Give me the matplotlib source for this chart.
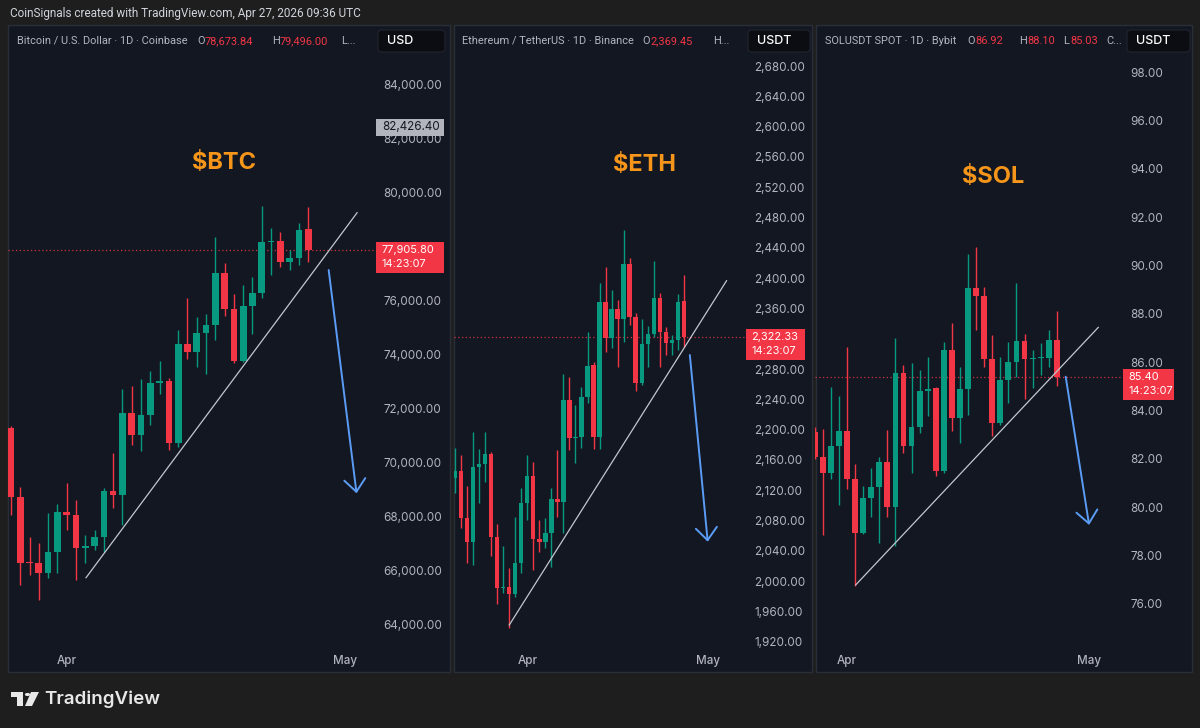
import numpy as np
import pandas as pd
import matplotlib
matplotlib.use('Agg')
import matplotlib.pyplot as plt
from matplotlib.patches import Rectangle, FancyBboxPatch, Circle, Polygon

plt.rcParams['font.family'] = ['Inter', 'DejaVu Sans']
HDR = ['Roboto', 'DejaVu Sans']

# ---------------- data (daily candles) ----------------
APR1 = pd.Timestamp('2026-04-01')

btc_start = '2026-03-26'
btc_open = [71284, 68753, 66346, 66284, 65938, 66716, 68198, 68074, 66864, 66926, 67247,
            68975, 68815, 71864, 71037, 71765, 72975, 73037, 70728, 74407, 74123, 74802,
            75111, 77049, 75704, 73778, 75815, 76309, 78173, 78235, 77432, 77605, 78673.84]
btc_high = [71370, 69123, 67247, 67049, 68136, 68481, 69272, 68630, 67333, 67518, 69062,
            70358, 72728, 72852, 73099, 73420, 73790, 73136, 74926, 76099, 75420, 75519,
            78358, 77420, 76259, 76593, 76877, 79518, 78691, 78568, 77889, 78901, 79496.00]
btc_low = [68074, 65481, 65852, 64926, 65728, 65914, 67518, 65667, 66284, 66778, 66716,
           68321, 67704, 70667, 70457, 71407, 72556, 70481, 70605, 73839, 73543, 73296,
           74556, 75444, 73700, 73753, 74778, 76099, 76963, 77272, 77148, 77333, 77457]
btc_close = [68753, 66309, 66284, 65938, 66716, 68198, 68074, 66864, 66926, 67247, 68975,
             68815, 71864, 71037, 71765, 72975, 73037, 70728, 74407, 74123, 74802, 75111,
             77049, 75704, 73778, 75815, 76309, 78173, 78235, 77432, 77605, 78629, 77905.80]

eth_start = '2026-03-20'
eth_open = [2135.6, 2145.3, 2083.7, 2052.0, 2150.2, 2154.6, 2167.8, 2058.6, 1990.9, 1992.6,
            1982.5, 2024.3, 2103.5, 2138.7, 2055.1, 2051.2, 2063.9, 2108.4, 2104.8, 2239.1,
            2188.5, 2189.8, 2243.5, 2285.3, 2189.8, 2368.0, 2321.4, 2358.8, 2346.0, 2418.2,
            2348.2, 2261.1, 2312.6, 2325.8, 2373.3, 2328.4, 2313.9, 2318.3, 2369.45]
eth_high = [2175.3, 2166.5, 2125.5, 2197.3, 2173.9, 2197.3, 2170.9, 2075.4, 2046.3, 2017.7,
            2084.2, 2122.4, 2166.5, 2157.6, 2080.6, 2082.8, 2122.4, 2173.1, 2273.4, 2269.9,
            2232.5, 2256.7, 2328.4, 2289.7, 2394.0, 2414.2, 2384.3, 2371.1, 2463.5, 2426.1,
            2353.5, 2345.6, 2336.8, 2423.0, 2380.8, 2335.9, 2324.9, 2379.0, 2404.1]
eth_low = [2115.8, 2069.6, 2024.3, 2021.2, 2102.6, 2131.2, 2033.1, 1969.7, 1983.8, 1937.6,
           1979.4, 2010.2, 2080.6, 2014.6, 2038.8, 2043.2, 2019.0, 2085.0, 2063.0, 2173.1,
           2156.3, 2175.3, 2234.7, 2173.9, 2173.9, 2302.9, 2307.3, 2283.1, 2316.1, 2338.1,
           2251.4, 2258.9, 2283.1, 2322.7, 2283.1, 2298.5, 2298.5, 2305.1, 2309.5]
eth_close = [2145.8, 2082.8, 2052.0, 2150.2, 2154.6, 2167.8, 2058.6, 1990.4, 1992.6, 1982.5,
             2024.3, 2103.5, 2138.7, 2055.1, 2051.2, 2063.9, 2108.4, 2104.8, 2239.1, 2188.5,
             2189.8, 2243.5, 2283.9, 2189.8, 2368.0, 2321.4, 2358.8, 2346.0, 2418.2, 2348.2,
             2261.1, 2312.6, 2325.8, 2373.3, 2328.4, 2313.9, 2318.3, 2368.9, 2322.33]

sol_start = '2026-03-28'
sol_open = [83.13, 82.07, 81.40, 82.55, 83.17, 81.17, 78.92, 80.37, 80.83, 81.89, 80.00,
            85.54, 82.55, 83.31, 84.81, 84.92, 81.50, 86.51, 83.71, 84.88, 89.06, 88.74,
            86.13, 83.47, 85.26, 86.02, 86.88, 86.13, 86.17, 86.17, 86.92]
sol_high = [83.30, 83.22, 84.99, 84.60, 86.61, 81.79, 80.89, 81.61, 82.09, 83.20, 86.99,
            85.88, 85.95, 85.68, 86.23, 84.99, 86.85, 87.64, 85.82, 90.48, 90.75, 89.12,
            87.13, 86.23, 86.85, 89.29, 87.17, 86.51, 86.78, 87.33, 88.10]
sol_low = [82.00, 78.85, 81.16, 80.09, 80.74, 76.74, 78.88, 79.58, 78.54, 79.58, 78.40,
           82.26, 81.40, 83.06, 83.78, 81.29, 81.40, 83.16, 82.65, 83.82, 87.33, 85.82,
           82.95, 83.40, 84.30, 85.40, 84.46, 84.92, 85.47, 85.82, 85.03]
sol_close = [82.09, 81.40, 82.55, 83.17, 81.17, 78.92, 80.37, 80.83, 81.89, 80.00, 85.54,
             82.55, 83.31, 84.82, 84.89, 81.50, 86.51, 83.71, 84.88, 89.06, 88.74, 86.13,
             83.47, 85.26, 86.02, 86.88, 86.12, 86.19, 86.20, 86.92, 85.40]

# drawings: (days after Apr 1, price)
btc_trend = [(2.08, 65752), (31.26, 79270)]
btc_arrow = [(28.2, 77148), (31.2, 68878)]
eth_trend = [(-3.0, 1942), (33.1, 2396.6)]
eth_arrow = [(27.0, 2298.5), (29.97, 2052)]
sol_trend = [(1.08, 76.79), (31.14, 87.44)]
sol_arrow = [(27.1, 85.40), (30.0, 79.27)]

# price-scale labels (the ones hidden behind the live price tag are left out)
btc_ticks = [64000, 66000, 68000, 70000, 72000, 74000, 76000, 80000, 82000, 84000]
eth_ticks = [1920, 1960, 2000, 2040, 2080, 2120, 2160, 2200, 2240, 2280,
             2360, 2400, 2440, 2480, 2520, 2560, 2600, 2640, 2680]
sol_ticks = [76, 78, 80, 82, 84, 86, 88, 90, 92, 94, 96, 98]

btc_marker = 82426.40
time_left = '14:23:07'

# ---------------- style ----------------
W, H = 1200, 728
BG = '#1e1e1e'
PANEL = '#131722'
GREEN = '#089981'
RED = '#f23645'
TXT = '#b2b5be'
ARROW = '#5b9cf6'
TREND = '#c3c7cf'
ORANGE = '#f5961b'

fig = plt.figure(figsize=(W / 100, H / 100), dpi=100, facecolor=BG)


def fx(x):
    return x / W


def fy(y):
    return 1 - y / H


def px_text(x, y, s, **kw):
    fig.text(fx(x), fy(y), s, **kw)


def candles(ax, start, o, h, l, c, width=0.72):
    dates = pd.date_range(start, periods=len(o))
    x = np.asarray((dates - APR1).days, dtype=float)
    o, h, l, c = map(np.asarray, (o, h, l, c))
    cols = np.where(c >= o, GREEN, RED)
    lo, hi = ax.get_ylim()
    minh = (hi - lo) / ax.bbox.height * 1.2
    ax.vlines(x, l, h, colors=cols, lw=1, zorder=2)
    ax.bar(x, np.maximum(np.abs(c - o), minh), width, np.minimum(o, c),
           color=cols, lw=0, zorder=3)


def tag(ax, price, lines, fc, tc, x0, x1, h):
    y = H - ax.transData.transform((0, price))[1]
    fig.patches.append(Rectangle((fx(x0), fy(y - 8 + h)), (x1 - x0) / W, h / H,
                                 transform=fig.transFigure, fc=fc, ec='none', zorder=5))
    for i, s in enumerate(lines):
        fig.text(fx(x0 + 5.5), fy(y + 14 * i), s, color=tc, fontsize=7.9,
                 va='center', ha='left', zorder=6)


panels = [
    dict(box=(8, 25, 450, 672), chart=(8, 374), apr=66.7, step=9.29,
         ylim=(63148, 86222), ticks=btc_ticks, fmt='{:,.2f}',
         ohlc=(btc_start, btc_open, btc_high, btc_low, btc_close),
         trend=btc_trend, arrow=btc_arrow, last=btc_close[-1], tag=(376, 444),
         unit='USD', ubox=(378, 445), label='$BTC', lpos=(224, 163)),
    dict(box=(454, 25, 812, 672), chart=(454, 745), apr=527.3, step=6.02,
         ylim=(1911.7, 2734.2), ticks=eth_ticks, fmt='{:,.2f}',
         ohlc=(eth_start, eth_open, eth_high, eth_low, eth_close),
         trend=eth_trend, arrow=eth_arrow, last=eth_close[-1], tag=(746, 805),
         unit='USDT', ubox=(748, 810), label='$ETH', lpos=(645, 165)),
    dict(box=(816, 25, 1192, 672), chart=(815, 1121), apr=847.0, step=8.07,
         ylim=(74.18, 99.945), ticks=sol_ticks, fmt='{:,.2f}',
         ohlc=(sol_start, sol_open, sol_high, sol_low, sol_close),
         trend=sol_trend, arrow=sol_arrow, last=sol_close[-1], tag=(1123, 1174),
         unit='USDT', ubox=(1127, 1190), label='$SOL', lpos=(993, 177)),
]

for p in panels:
    bx0, by0, bx1, by1 = p['box']
    fig.patches.append(Rectangle((fx(bx0), fy(by1)), (bx1 - bx0) / W, (by1 - by0) / H,
                                 transform=fig.transFigure, fc=PANEL, ec='#2a2e39',
                                 lw=1, zorder=-5))
    cx0, cx1 = p['chart']
    ax = fig.add_axes([fx(cx0), fy(648), (cx1 - cx0) / W, (648 - 25) / H])
    ax.set_zorder(1)
    ax.set_facecolor('none')
    for s in ax.spines.values():
        s.set_visible(False)
    ax.set_xlim((cx0 - p['apr']) / p['step'], (cx1 - p['apr']) / p['step'])
    ax.set_ylim(*p['ylim'])

    ax.yaxis.tick_right()
    ax.set_yticks(p['ticks'])
    ax.set_yticklabels([p['fmt'].format(t) for t in p['ticks']])
    ax.tick_params(axis='y', length=0, pad=6.5, labelsize=8.4, labelcolor=TXT)
    ax.set_xticks([0, 30])
    ax.set_xticklabels(['Apr', 'May'])
    ax.tick_params(axis='x', length=0, pad=5, labelsize=8.4, labelcolor=TXT)
    for t in ax.get_xticklabels():
        t.set_fontweight('medium')

    candles(ax, *p['ohlc'])

    (tx0, ty0), (tx1, ty1) = p['trend']
    ax.plot([tx0, tx1], [ty0, ty1], color=TREND, lw=0.9, zorder=4, clip_on=False)
    (ax0, ay0), (ax1, ay1) = p['arrow']
    ax.annotate('', xy=(ax1, ay1), xytext=(ax0, ay0),
                arrowprops=dict(arrowstyle='->,head_length=0.45,head_width=0.38',
                                color=ARROW, lw=1.4, mutation_scale=20,
                                shrinkA=0, shrinkB=0), zorder=4)

    ax.axhline(p['last'], color=RED, lw=0.9, ls=(0, (1, 2)), alpha=0.85, zorder=1)
    tag(ax, p['last'], [p['fmt'].format(p['last']), time_left], RED, 'white',
        p['tag'][0], p['tag'][1], 31)

    u0, u1 = p['ubox']
    fig.patches.append(FancyBboxPatch((fx(u0), fy(52)), (u1 - u0) / W, 22 / H,
                                      boxstyle='round,pad=0,rounding_size=0.004',
                                      transform=fig.transFigure, fc='#0b0d12',
                                      ec='#22252e', lw=0.8, zorder=5))
    px_text(u0 + 9, 41.5, p['unit'], color='white', fontsize=9, va='center',
            fontweight='medium', zorder=6)

    px_text(p['lpos'][0], p['lpos'][1], p['label'], color=ORANGE, fontsize=17,
            fontweight='bold', ha='center', va='center', zorder=6)

    if p['label'] == '$BTC':
        y = H - ax.transData.transform((0, btc_marker))[1]
        fig.patches.append(Rectangle((fx(376), fy(y + 8.5)), 68 / W, 17 / H,
                                     transform=fig.transFigure, fc='#b2b5be',
                                     ec='none', zorder=5))
        px_text(382, y, '{:,.2f}'.format(btc_marker), color='#131722', fontsize=8.4,
                va='center', zorder=6)

# ---------------- header texts ----------------
px_text(10, 14, 'CoinSignals created with TradingView.com, Apr 27, 2026 09:36 UTC',
        color='#d1d4dc', fontsize=8.5, va='center', family=HDR)


def legend(parts, y=41):
    for x, s, col in parts:
        px_text(x, y, s, color=col, fontsize=7.9, va='center', zorder=6, family=HDR)


legend([(17, 'Bitcoin / U.S. Dollar · 1D · Coinbase', TXT),
        (197, 'O', TXT), (205, '{:,.2f}'.format(btc_open[-1]), RED),
        (272, 'H', TXT), (280, '{:,.2f}'.format(btc_high[-1]), RED),
        (341, 'L...', TXT)])
legend([(462, 'Ethereum / TetherUS · 1D · Binance', TXT),
        (642, 'O', TXT), (650, '{:,.2f}'.format(eth_open[-1]), RED),
        (713, 'H...', TXT)])
legend([(825, 'SOLUSDT SPOT · 1D · Bybit', TXT),
        (967, 'O', TXT), (975, '{:,.2f}'.format(sol_open[-1]), RED),
        (1019, 'H', TXT), (1027, '{:,.2f}'.format(sol_high[-1]), RED),
        (1063, 'L', TXT), (1070, '{:,.2f}'.format(sol_low[-1]), RED),
        (1106, 'C...', TXT)])

# ---------------- TradingView logo ----------------
logo = '#e8e8e8'
fig.patches.append(Rectangle((fx(11), fy(697)), 12 / W, 5 / H, transform=fig.transFigure,
                             fc=logo, ec='none'))
fig.patches.append(Rectangle((fx(17), fy(706)), 6 / W, 14 / H, transform=fig.transFigure,
                             fc=logo, ec='none'))
fig.patches.append(Circle((fx(27.5), fy(694.5)), 2.6 / W, transform=fig.transFigure,
                          fc=logo, ec='none'))
fig.patches.append(Polygon([(fx(31), fy(692)), (fx(39), fy(692)), (fx(32), fy(706)),
                            (fx(25), fy(706))], transform=fig.transFigure, fc=logo, ec='none'))
px_text(44, 699, 'TradingView', color=logo, fontsize=13.5, fontweight='semibold',
        va='center')

fig.savefig('out.png', dpi=100, facecolor=BG)
